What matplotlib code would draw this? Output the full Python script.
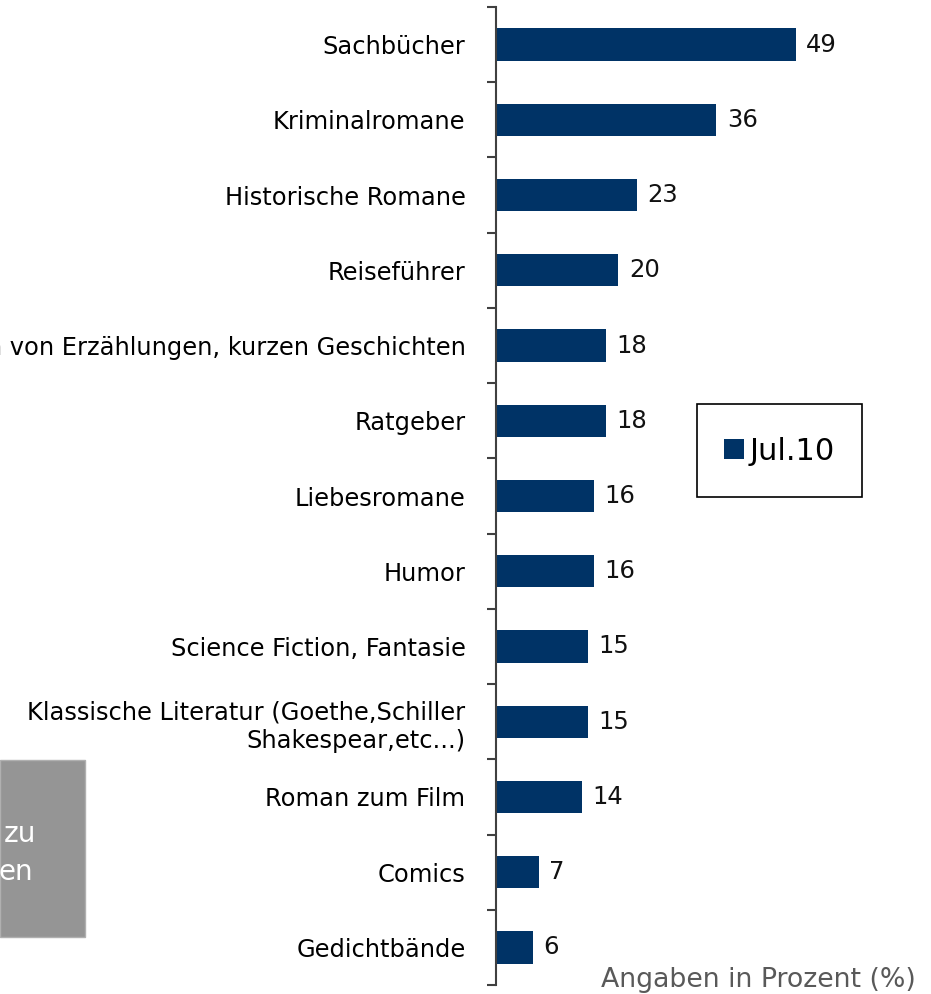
import numpy as np
import matplotlib.pyplot as plt
from matplotlib.ticker import FixedLocator

plt.rcParams['font.family'] = 'DejaVu Sans'

categories = [
    'Sachbücher',
    'Kriminalromane',
    'Historische Romane',
    'Reiseführer',
    'Sammlungen von Erzählungen, kurzen Geschichten',
    'Ratgeber',
    'Liebesromane',
    'Humor',
    'Science Fiction, Fantasie',
    'Klassische Literatur (Goethe,Schiller\nShakespear,etc...)',
    'Roman zum Film',
    'Comics',
    'Gedichtbände',
]
values = [49, 36, 23, 20, 18, 18, 16, 16, 15, 15, 14, 7, 6]
series_name = 'Jul.10'

W, H = 931, 994
fig = plt.figure(figsize=(W / 100, H / 100), dpi=100)

ax_left, ax_top, ax_bottom = 496, 7, 985
ax = fig.add_axes([ax_left / W, 1 - ax_bottom / H, 1 - ax_left / W, (ax_bottom - ax_top) / H])

y = np.arange(len(categories))
bar_color = '#003366'
bars = ax.barh(y, values, height=0.43, color=bar_color, label=series_name, zorder=2)
ax.set_ylim(len(categories) - 0.5, -0.5)
ax.set_xlim(0, (W - ax_left) / 6.12)

for yi, v in zip(y, values):
    ax.text(v + 1.7, yi, str(v), va='center', ha='left', fontsize=17.5, color='#111111')

ax.set_yticks(y)
ax.set_yticklabels(categories, fontsize=17.4, ha='right', linespacing=1.25)
ax.tick_params(axis='y', which='major', length=0, pad=22)
ax.yaxis.set_minor_locator(FixedLocator(np.arange(-0.5, len(categories), 1.0)))
ax.tick_params(axis='y', which='minor', length=6.5, width=1.5, color='#404040')
ax.set_xticks([])

for s in ['top', 'right', 'bottom']:
    ax.spines[s].set_visible(False)
ax.spines['left'].set_color('#404040')
ax.spines['left'].set_linewidth(1.5)

# legend: box drawn separately so its size matches
fig.patches.append(plt.Rectangle((697 / W, 1 - 497 / H), 165 / W, 93 / H,
                                 transform=fig.transFigure, facecolor='white',
                                 edgecolor='black', linewidth=1.2, zorder=3))
leg = fig.legend(handles=[bars], labels=[series_name], loc='center left',
                 bbox_to_anchor=(724 / W, 1 - 451 / H), bbox_transform=fig.transFigure,
                 fontsize=22, frameon=False, borderpad=0, borderaxespad=0,
                 handlelength=0.65, handleheight=0.65, handletextpad=0.2)
leg.set_zorder(5)

# grey box at lower left (partly cut off)
fig.patches.append(plt.Rectangle((0, 1 - 937 / H), 85 / W, 177 / H,
                                 transform=fig.transFigure, facecolor='#959595',
                                 edgecolor='#b0b0b0', linewidth=1))
fig.text(36 / W, 1 - 842 / H, 'zu', ha='right', va='baseline', fontsize=20, color='white')
fig.text(33 / W, 1 - 880 / H, 'en', ha='right', va='baseline', fontsize=20, color='white')

fig.text(916 / W, 1 - 980 / H, 'Angaben in Prozent (%)', ha='right', va='center',
         fontsize=19.3, color='#595959')

fig.savefig('out.png', dpi=100)
